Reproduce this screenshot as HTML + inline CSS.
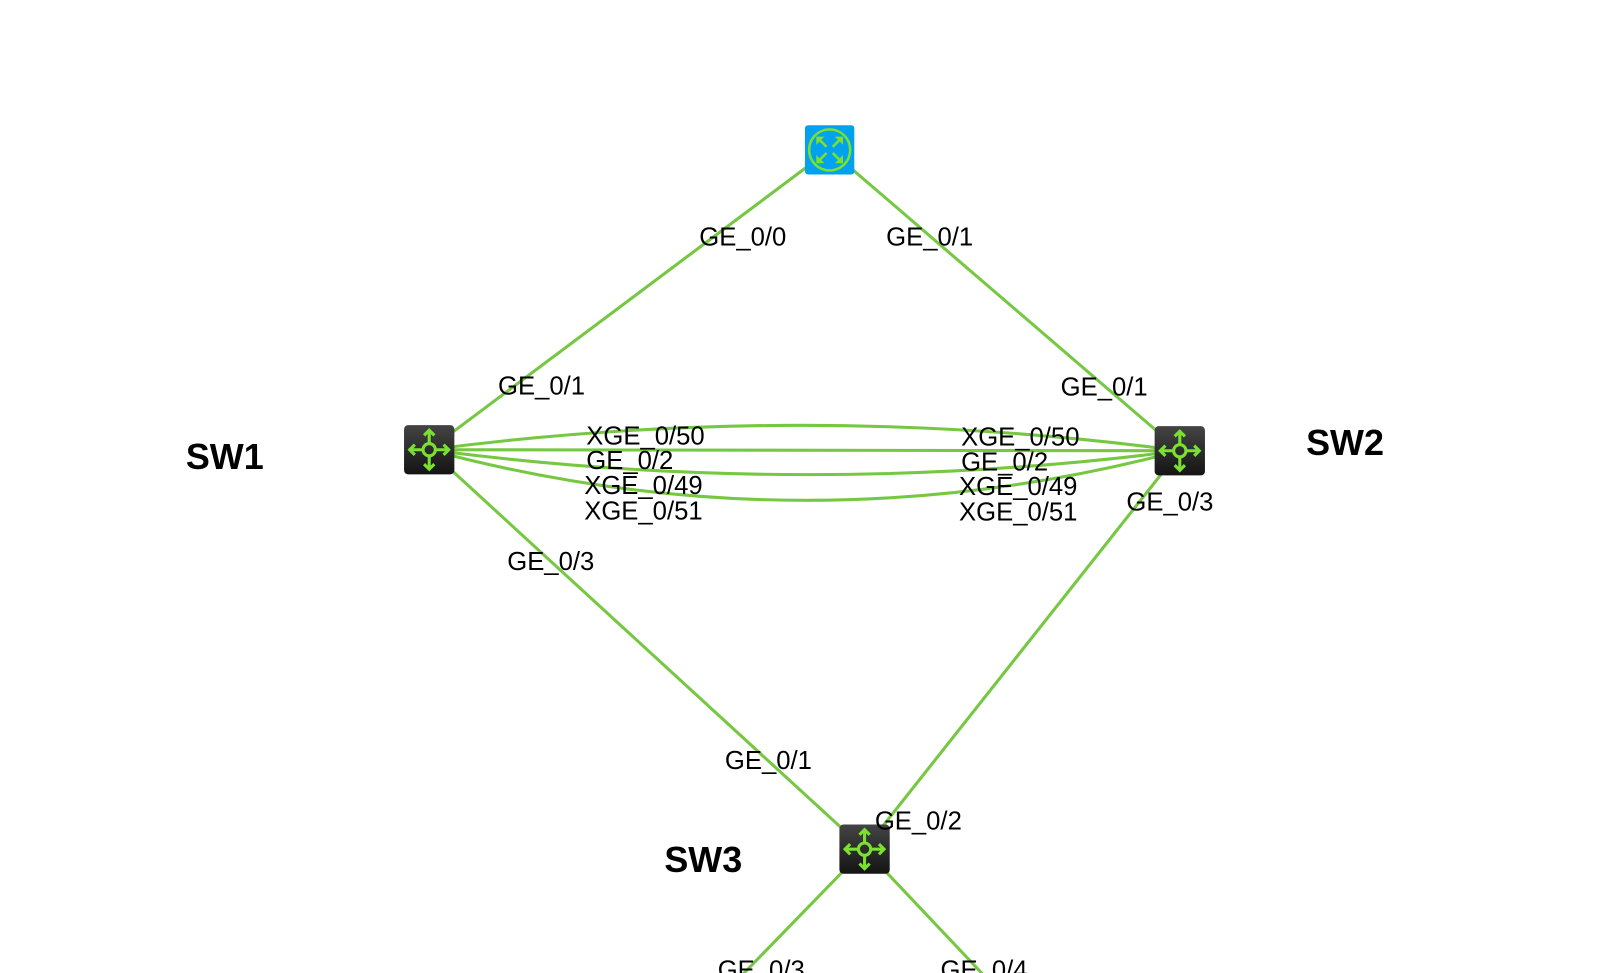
<!DOCTYPE html>
<html><head><meta charset="utf-8"><style>
html,body{margin:0;padding:0;background:#fff;width:1606px;height:973px;overflow:hidden}
svg text{font-family:"Liberation Sans",Arial,sans-serif;fill:#000}
.l{font-size:25px}
.b{font-size:35px;font-weight:bold}
</style></head><body>
<svg width="1606" height="973" viewBox="0 0 1606 973" xmlns="http://www.w3.org/2000/svg">
<defs>
<linearGradient id="g" x1="0" y1="0" x2="0" y2="1"><stop offset="0" stop-color="#444"/><stop offset="1" stop-color="#141414"/></linearGradient>
<g id="sw">
<rect x="-24.5" y="-24" width="49" height="48" rx="4" fill="url(#g)"/>
<g stroke="#7be02f" stroke-width="3" fill="none">
<circle r="6"/>
<path d="M0-6V-19M0 6V19M-6 0H-19M6 0H19"/>
<path d="M-5-14L0-19L5-14M-5 14L0 19L5 14M-14-5L-19 0L-14 5M14-5L19 0L14 5"/>
</g>
</g>
</defs>
<g transform="scale(1.0268)">
<g stroke="#76c843" stroke-width="3" fill="none">
<path d="M808 146L418 438"/>
<path d="M808 146L1149 439"/>
<path d="M418 438L842 827"/>
<path d="M1149 439L842 827"/>
<path d="M842 827L700 973"/>
<path d="M842 827L980 973"/>
<path d="M418 438Q783 390 1149 439"/>
<path d="M418 438L1149 439"/>
<path d="M418 438Q783 486 1149 439"/>
<path d="M418 438Q783 536 1149 439"/>
</g>
<rect x="784" y="122" width="48" height="48" rx="3" fill="#00a2ed"/>
<g stroke="#7be02f" stroke-width="2.5" fill="none">
<circle cx="808" cy="146" r="20"/>
<path d="M797 135L805 143M819 135L811 143M797 157L805 149M819 157L811 149"/>
</g>
<g fill="#7be02f">
<path d="M795 133h8l-8 8z M821 133h-8l8 8z M795 159h8l-8-8z M821 159h-8l8-8z"/>
</g>
<use href="#sw" x="418" y="438"/>
<use href="#sw" x="1149" y="439"/>
<use href="#sw" x="842" y="827"/>
<text class="l" x="681" y="239">GE_0/0</text>
<text class="l" x="863" y="239">GE_0/1</text>
<text class="l" x="485" y="384">GE_0/1</text>
<text class="l" x="1033" y="385">GE_0/1</text>
<text class="l" x="571" y="433">XGE_0/50</text>
<text class="l" x="571" y="457">GE_0/2</text>
<text class="l" x="569" y="481">XGE_0/49</text>
<text class="l" x="569" y="506">XGE_0/51</text>
<text class="l" x="936" y="434">XGE_0/50</text>
<text class="l" x="936" y="458">GE_0/2</text>
<text class="l" x="934" y="482">XGE_0/49</text>
<text class="l" x="934" y="507">XGE_0/51</text>
<text class="l" x="1097" y="497">GE_0/3</text>
<text class="l" x="494" y="555">GE_0/3</text>
<text class="l" x="706" y="749">GE_0/1</text>
<text class="l" x="852" y="808">GE_0/2</text>
<text class="l" x="699" y="953">GE_0/3</text>
<text class="l" x="916" y="953">GE_0/4</text>
<text class="b" x="181" y="457">SW1</text>
<text class="b" x="1272" y="443">SW2</text>
<text class="b" x="647" y="849">SW3</text>
</g>
</svg>
</body></html>
